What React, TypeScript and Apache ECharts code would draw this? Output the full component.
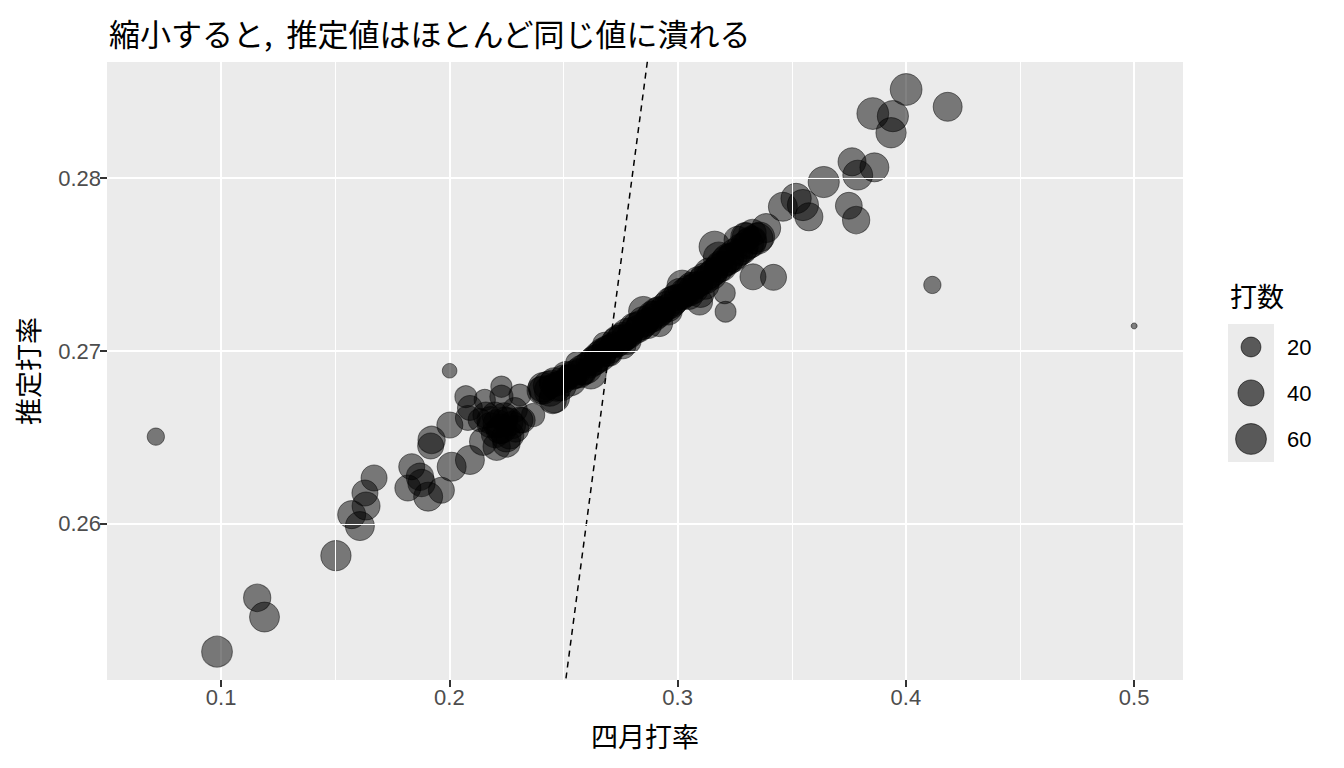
import React, { useEffect, useRef } from "react";
import * as echarts from "echarts";

// ---- data ----
const titleText = "縮小すると,  推定値はほとんど同じ値に潰れる";
const xTitle = "四月打率";
const yTitle = "推定打率";
const sizeTitle = "打数";

const xTicks = [0.1, 0.2, 0.3, 0.4, 0.5];
const yTicks = [0.26, 0.27, 0.28];
const xMinorBreaks = [0.15, 0.25, 0.35, 0.45];
const yMinorBreaks = [0.255, 0.265, 0.275, 0.285];
const sizeBreaks = [20, 40, 60];

const xRange = [0.05, 0.5214];
const yRange = [0.25098, 0.28671];

// April batting average
const aprilAvg = [
  0.5, 0.0714, 0.0982, 0.1158, 0.119, 0.1503, 0.167, 0.163, 0.1635, 0.1572, 0.1608,
  0.1818, 0.1835, 0.1871, 0.1878, 0.1907, 0.1922, 0.1918, 0.201, 0.2002, 0.2001,
  0.209, 0.2072, 0.209, 0.2081, 0.2148, 0.2207, 0.225, 0.2155, 0.2228, 0.2228,
  0.2309, 0.2367, 0.2199, 0.2243, 0.2274, 0.2221, 0.2287, 0.2177, 0.2265, 0.2309,
  0.2133, 0.2411, 0.2453, 0.1965,
  0.218, 0.221, 0.223, 0.224, 0.226, 0.22, 0.225, 0.229, 0.232, 0.216,
  0.24, 0.243, 0.245, 0.247, 0.25, 0.252, 0.254, 0.256, 0.258, 0.259, 0.261, 0.263,
  0.265, 0.266, 0.268, 0.27, 0.272, 0.273, 0.275, 0.277, 0.278, 0.28, 0.282, 0.283,
  0.285, 0.286, 0.288, 0.29, 0.291, 0.293, 0.295, 0.296, 0.298, 0.3, 0.301, 0.303,
  0.304, 0.306, 0.308, 0.309, 0.311, 0.313, 0.314, 0.316, 0.318, 0.32, 0.321, 0.323,
  0.325, 0.327, 0.329, 0.331, 0.333, 0.336,
  0.262, 0.271, 0.279, 0.287, 0.294, 0.302, 0.31, 0.317, 0.255, 0.248,
  0.241, 0.244, 0.246, 0.249, 0.251, 0.253, 0.257, 0.26, 0.264, 0.267, 0.269, 0.274,
  0.276, 0.281, 0.284, 0.289, 0.292, 0.297, 0.299, 0.305, 0.307, 0.312, 0.315, 0.319,
  0.322, 0.324, 0.328, 0.332, 0.335, 0.312, 0.305, 0.296, 0.287, 0.278, 0.27,
  0.246, 0.256, 0.262, 0.268, 0.276, 0.285, 0.292, 0.302, 0.31, 0.318,
  0.3162, 0.333, 0.342, 0.321, 0.3206, 0.3096, 0.3301, 0.3263, 0.3388, 0.3328, 0.3295,
  0.4001, 0.4183, 0.3855, 0.3943, 0.3935, 0.3764, 0.3862, 0.3789, 0.364, 0.3519,
  0.3461, 0.3549, 0.3575, 0.375, 0.3782, 0.4116,
];

// Shrinkage estimate
const estAvg = [
  0.27145, 0.26505, 0.25262, 0.25573, 0.25462, 0.25817, 0.26266, 0.26179, 0.26104, 0.26054, 0.25988,
  0.26208, 0.26331, 0.26273, 0.26237, 0.26158, 0.26486, 0.26451, 0.26331, 0.26572, 0.26886,
  0.2637, 0.26736, 0.26671, 0.26613, 0.26476, 0.26447, 0.26466, 0.26717, 0.26794, 0.26736,
  0.26746, 0.2663, 0.2663, 0.26601, 0.26572, 0.26543, 0.26659, 0.26572, 0.26514, 0.26601,
  0.26601, 0.26775, 0.26717, 0.26195,
  0.266, 0.2658, 0.2655, 0.2662, 0.2659, 0.2652, 0.265, 0.2655, 0.266, 0.2663,
  0.26772, 0.268, 0.26815, 0.26795, 0.26838, 0.2685, 0.2686, 0.2688, 0.2689, 0.2687, 0.2693, 0.2694,
  0.2696, 0.2697, 0.27, 0.2701, 0.2704, 0.2705, 0.2707, 0.2708, 0.271, 0.2712, 0.2714, 0.2713,
  0.2717, 0.2716, 0.2719, 0.2721, 0.2722, 0.2724, 0.2726, 0.2725, 0.2729, 0.2731, 0.2733, 0.2734,
  0.2733, 0.2737, 0.2738, 0.274, 0.2741, 0.2743, 0.2745, 0.2746, 0.2748, 0.275, 0.2752, 0.2754,
  0.2756, 0.2757, 0.276, 0.2762, 0.2764, 0.2766,
  0.2691, 0.2703, 0.2709, 0.2718, 0.2723, 0.2731, 0.2739, 0.2747, 0.2685, 0.2681,
  0.2679, 0.2677, 0.2682, 0.268, 0.2686, 0.2683, 0.2687, 0.269, 0.2695, 0.2699, 0.27, 0.2706,
  0.2708, 0.2713, 0.2715, 0.272, 0.2723, 0.2728, 0.273, 0.2735, 0.2736, 0.2742, 0.2744, 0.2749,
  0.2753, 0.2754, 0.2759, 0.2763, 0.2765, 0.2738, 0.2732, 0.2723, 0.2715, 0.2706, 0.2699,
  0.2673, 0.2693, 0.2687, 0.2704, 0.2703, 0.2723, 0.2716, 0.2738, 0.2733, 0.2754,
  0.27603, 0.27429, 0.27426, 0.27227, 0.27335, 0.27283, 0.27661, 0.27642, 0.27711, 0.27682, 0.2766,
  0.28512, 0.28412, 0.28373, 0.28358, 0.28262, 0.28094, 0.28062, 0.28017, 0.27977, 0.27882,
  0.27834, 0.27844, 0.27776, 0.2784, 0.27757, 0.27382,
];

// April at-bats
const atBats = [
  2, 14, 60, 45, 56, 58, 40, 40, 48, 48, 52,
  40, 40, 45, 45, 52, 45, 40, 52, 40, 9,
  52, 26, 36, 36, 45, 45, 45, 24, 24, 30,
  26, 30, 40, 40, 45, 45, 36, 36, 48, 40,
  30, 50, 45, 40,
  45, 50, 52, 48, 50, 45, 52, 42, 38, 40,
  45, 50, 40, 55, 48, 35, 50, 42, 55, 30, 38, 52,
  45, 60, 40, 50, 35, 55, 48, 42, 60, 38, 52, 45,
  58, 40, 50, 44, 60, 36, 52, 46, 56, 40, 62, 48,
  38, 54, 44, 58, 50, 40, 60, 46, 52, 42, 56, 48,
  60, 44, 52, 58, 46, 55,
  28, 32, 30, 34, 30, 36, 30, 34, 30, 28,
  55, 60, 52, 58, 45, 60, 50, 60, 55, 52, 58, 60,
  55, 62, 55, 60, 55, 62, 50, 60, 55, 62, 55, 60,
  62, 55, 62, 60, 62, 48, 46, 45, 44, 45, 44,
  58, 30, 60, 32, 40, 55, 42, 58, 44, 60,
  62, 40, 40, 23, 24, 40, 48, 45, 52, 45, 50,
  65, 52, 65, 62, 58, 48, 52, 56, 62, 58,
  52, 62, 48, 43, 45, 14,
];

// identity line y = x (drawn through the axes, clipped by the panel)
const identityLine = [
  [0.2, 0.2],
  [0.32, 0.32],
];

// ---- helpers ----
const sizeMin = 2;
const sizeOf = (n: number) => 6 + 3.25 * Math.sqrt(Math.max(n - sizeMin, 0));
const FONT_LAT = "Liberation Sans, Arial, sans-serif";
const FONT_CJK = "Noto Sans CJK JP, sans-serif";
const ALPHA_FILL = "rgba(0,0,0,0.62)";

export default function App() {
  const ref = useRef<HTMLDivElement>(null);

  useEffect(() => {
    if (!ref.current) return;
    const chart = echarts.init(ref.current, null, { renderer: "svg" });

    const points = aprilAvg.map((x, i) => [x, estAvg[i], atBats[i]]);

    const legendX = 1228;
    const legendY = 324;
    const keySize = 46;

    const legendGraphics: any[] = [
      {
        type: "text",
        left: 1230,
        top: 282,
        style: { text: sizeTitle, fontSize: 27, fontFamily: FONT_CJK, fill: "#000" },
      },
      {
        type: "rect",
        shape: { x: legendX, y: legendY, width: keySize, height: keySize * sizeBreaks.length },
        style: { fill: "#EBEBEB" },
      },
    ];
    sizeBreaks.forEach((v, i) => {
      const cy = legendY + keySize * i + keySize / 2;
      legendGraphics.push({
        type: "circle",
        shape: { cx: legendX + keySize / 2, cy, r: sizeOf(v) / 2 },
        style: { fill: ALPHA_FILL, stroke: ALPHA_FILL, lineWidth: 1 },
      });
      legendGraphics.push({
        type: "text",
        x: legendX + keySize + 13,
        y: cy,
        style: {
          text: String(v),
          fontSize: 22,
          fontFamily: FONT_LAT,
          fill: "#000",
          verticalAlign: "middle",
          align: "left",
        },
      });
    });

    const tickLabel = {
      color: "#4D4D4D",
      fontSize: 22,
      fontFamily: FONT_LAT,
      margin: 6,
    };

    chart.setOption({
      animation: false,
      backgroundColor: "#FFFFFF",
      title: {
        text: titleText,
        left: 104,
        top: 12,
        textStyle: { fontSize: 31, fontWeight: "normal", fontFamily: FONT_CJK, color: "#000" },
      },
      grid: {
        left: 107,
        right: 161,
        top: 62,
        bottom: 88,
        containLabel: false,
        outerBoundsMode: "none",
        show: true,
        backgroundColor: "#EBEBEB",
        borderWidth: 0,
      },
      xAxis: {
        type: "value",
        min: xRange[0],
        max: xRange[1],
        axisLine: { show: false },
        axisTick: { show: true, length: 7, lineStyle: { color: "#333333", width: 2 }, customValues: xTicks },
        axisLabel: {
          ...tickLabel,
          customValues: xTicks,
          formatter: (v: number) => v.toFixed(1),
        },
        splitLine: { show: true, lineStyle: { color: "#FFFFFF", width: 2 } },
        name: xTitle,
        nameLocation: "middle",
        nameGap: 42,
        nameTextStyle: { fontSize: 27, fontFamily: FONT_CJK, color: "#000" },
      },
      yAxis: {
        type: "value",
        min: yRange[0],
        max: yRange[1],
        axisLine: { show: false },
        axisTick: { show: true, length: 7, lineStyle: { color: "#333333", width: 2 }, customValues: yTicks },
        axisLabel: {
          ...tickLabel,
          customValues: yTicks,
          formatter: (v: number) => v.toFixed(2),
        },
        splitLine: { show: true, lineStyle: { color: "#FFFFFF", width: 2 } },
        name: yTitle,
        nameLocation: "middle",
        nameGap: 66,
        nameRotate: 90,
        nameTextStyle: { fontSize: 27, fontFamily: FONT_CJK, color: "#000" },
      },
      series: [
        {
          type: "line",
          data: [],
          silent: true,
          markLine: {
            silent: true,
            symbol: ["none", "none"],
            label: { show: false },
            emphasis: { disabled: true },
            lineStyle: { color: "#FFFFFF", width: 1, type: "solid" },
            data: [
              ...xMinorBreaks.map((v) => ({ xAxis: v })),
              ...yMinorBreaks.map((v) => ({ yAxis: v })),
            ],
          },
        },
        {
          type: "line",
          data: identityLine,
          clip: true,
          symbol: "none",
          silent: true,
          lineStyle: { color: "#000000", width: 1.5, type: [6, 5] },
        },
        {
          type: "scatter",
          data: points,
          symbolSize: (v: number[]) => sizeOf(v[2]),
          itemStyle: { color: ALPHA_FILL, borderColor: ALPHA_FILL, borderWidth: 1 },
          emphasis: { disabled: true },
        },
      ],
      graphic: legendGraphics,
    });

    return () => chart.dispose();
  }, []);

  return (
    <div
      ref={ref}
      style={{ position: "fixed", left: 0, top: 0, width: 1344, height: 768, background: "#fff" }}
    />
  );
}
